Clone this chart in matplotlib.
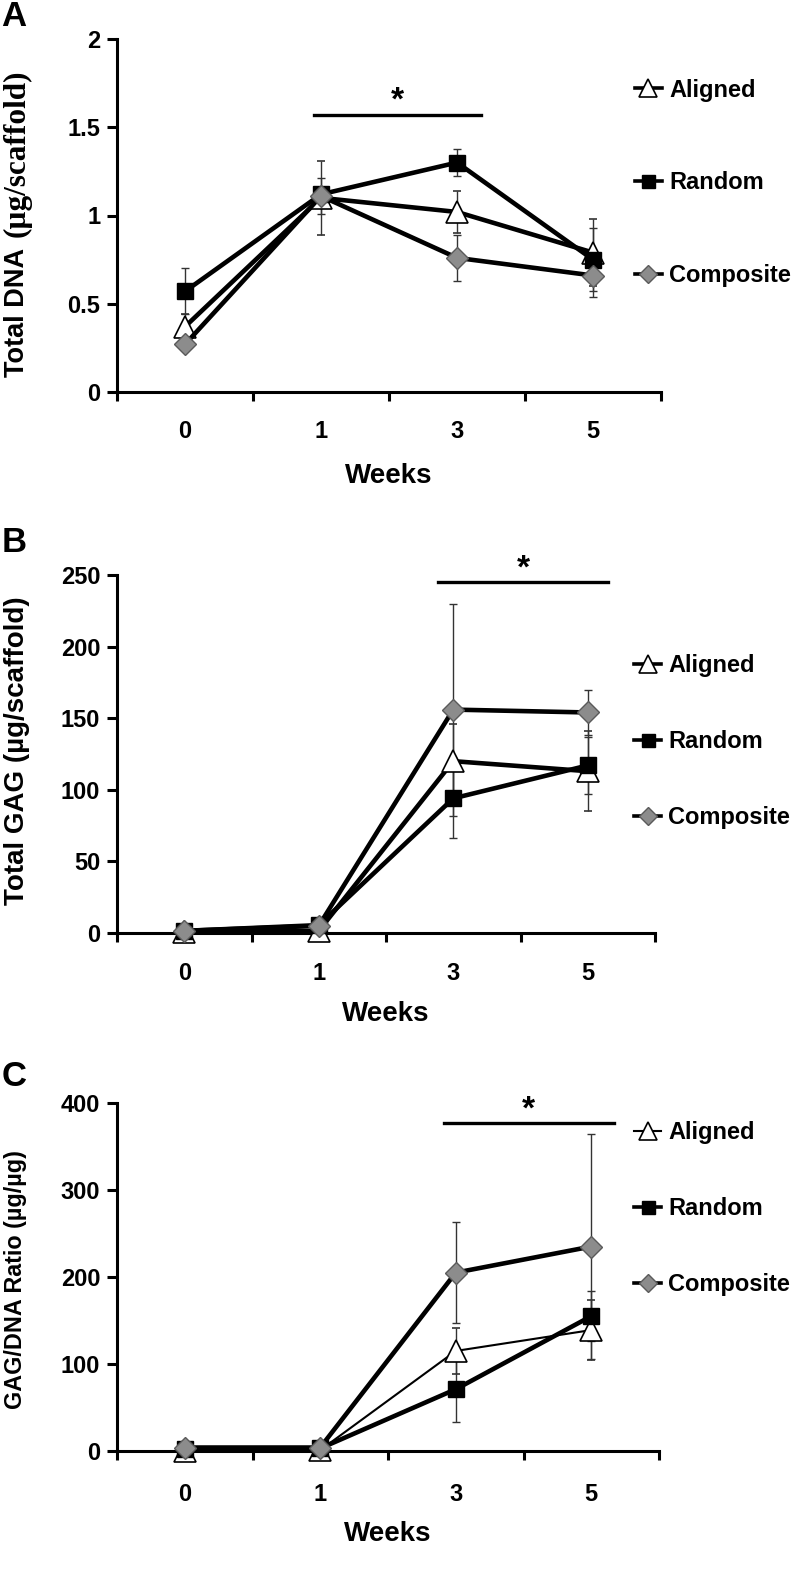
import matplotlib
matplotlib.use("Agg")
import matplotlib.pyplot as plt
import numpy as np

plt.rcParams["font.family"] = ["Liberation Sans", "DejaVu Sans"]
plt.rcParams["font.weight"] = "bold"

# =========================
# Data
# =========================
weeks = ["0", "1", "3", "5"]
series = ["Aligned", "Random", "Composite"]

# A - Total DNA (ug/scaffold)
dna_aligned = [0.37, 1.10, 1.02, 0.79]
dna_aligned_err = [0.07, 0.21, 0.12, 0.19]
dna_random = [0.57, 1.12, 1.30, 0.75]
dna_random_err = [0.13, 0.04, 0.075, 0.18]
dna_composite = [0.27, 1.11, 0.76, 0.66]
dna_composite_err = [0.03, 0.10, 0.13, 0.12]

# B - Total GAG (ug/scaffold)
gag_aligned = [0.5, 1.5, 120, 113]
gag_aligned_err = [0.5, 0.5, 26, 28]
gag_random = [1.5, 5.5, 94, 117]
gag_random_err = [0.5, 1.0, 28, 20]
gag_composite = [1.5, 5.0, 156, 154]
gag_composite_err = [0.5, 1.0, 74, 16]

# C - GAG/DNA ratio (ug/ug)
ratio_aligned = [0.5, 1.0, 115, 139]
ratio_aligned_err = [0.5, 0.5, 26, 34]
ratio_random = [2.0, 3.0, 71, 155]
ratio_random_err = [1.0, 1.0, 38, 29]
ratio_composite = [4.0, 4.0, 205, 235]
ratio_composite_err = [1.0, 1.0, 58, 129]

# significance bars: (x start, x end, y)
sig_a = (0.95, 2.18, 1.57)
sig_b = (1.89, 3.15, 245)
sig_c = (1.91, 3.17, 377)

yticks_a = [0, 0.5, 1, 1.5, 2]
yticklabels_a = ["0", "0.5", "1", "1.5", "2"]
yticks_b = [0, 50, 100, 150, 200, 250]
yticks_c = [0, 100, 200, 300, 400]

# =========================
# Styles
# =========================
STYLE = {
    "Aligned": dict(marker="^", ms=16, mfc="white", mec="black", mew=1.2),
    "Random": dict(marker="s", ms=12, mfc="black", mec="black", mew=1.0),
    "Composite": dict(marker="D", ms=11.5, mfc="#8c8c8c", mec="#5a5a5a", mew=1.0),
}
TICK_FS = 17
LEG_FS = 17


def draw_panel(ax, vals, errs, lws, ylim, yticks, yticklabels, sig, tick_pad,
               xlabel_y, leg_anchor, leg_spacing):
    x = np.arange(len(weeks))
    handles = []
    for name, v, e, lw in zip(series, vals, errs, lws):
        eb = ax.errorbar(x, v, yerr=e, color="black", lw=lw, ecolor="#333333",
                         elinewidth=1.0, capsize=3, capthick=1.0,
                         clip_on=False, zorder=3, **STYLE[name])
        handles.append(eb.lines[0])

    ax.set_xlim(-0.5, len(weeks) - 0.5)
    ax.set_ylim(*ylim)
    ax.set_yticks(yticks)
    ax.set_yticklabels(yticklabels if yticklabels else [str(t) for t in yticks])

    # tick marks between categories, labels at category centres
    ax.set_xticks(np.arange(len(weeks) + 1) - 0.5)
    ax.set_xticklabels([])
    ax.set_xticks(x, minor=True)
    ax.set_xticklabels(weeks, minor=True)
    ax.tick_params(axis="x", which="major", direction="out", length=6.5, width=2.2)
    ax.tick_params(axis="x", which="minor", length=0, pad=tick_pad, labelsize=TICK_FS)
    ax.tick_params(axis="y", direction="out", length=7, width=2.2, pad=5,
                   labelsize=TICK_FS)

    for s in ("top", "right"):
        ax.spines[s].set_visible(False)
    for s in ("left", "bottom"):
        ax.spines[s].set_linewidth(2.2)

    ax.set_xlabel("Weeks", fontsize=20, fontweight="bold")
    ax.xaxis.set_label_coords(0.5, xlabel_y)

    # significance bar + star
    x0, x1, y = sig
    ax.plot([x0, x1], [y, y], color="black", lw=2.4, clip_on=False)
    ax.annotate("*", xy=((x0 + x1) / 2, y), xytext=(0, -1.5), textcoords="offset points",
                ha="center", va="bottom", fontsize=24, fontweight="bold",
                annotation_clip=False)

    leg = ax.legend(handles, series, loc="center left", bbox_to_anchor=leg_anchor,
                    frameon=False, fontsize=LEG_FS, handlelength=1.15,
                    handletextpad=0.3, labelspacing=leg_spacing, borderpad=0,
                    borderaxespad=0, markerscale=0.78)
    for h, lw in zip(leg.legend_handles, lws):
        h.set_linewidth(min(lw, 2.6))
    return ax


W, H = 792, 1577
fig = plt.figure(figsize=(W / 100, H / 100), dpi=100)


def px_axes(left, right, top, bottom):
    return fig.add_axes([left / W, 1 - bottom / H, (right - left) / W, (bottom - top) / H])


axA = px_axes(117, 661, 39, 392)
draw_panel(axA, [dna_aligned, dna_random, dna_composite],
           [dna_aligned_err, dna_random_err, dna_composite_err],
           [3.3, 3.3, 3.3], (0, 2), yticks_a, yticklabels_a, sig_a, 20,
           -0.2, (0.952, 0.593), 2.95)

axB = px_axes(117, 655, 575, 933)
draw_panel(axB, [gag_aligned, gag_random, gag_composite],
           [gag_aligned_err, gag_random_err, gag_composite_err],
           [3.3, 3.3, 3.3], (0, 250), yticks_b, None, sig_b, 21,
           -0.19, (0.961, 0.534), 2.25)

axC = px_axes(117, 659, 1103, 1451)
draw_panel(axC, [ratio_aligned, ratio_random, ratio_composite],
           [ratio_aligned_err, ratio_random_err, ratio_composite_err],
           [1.5, 3.3, 3.3], (0, 400), yticks_c, None, sig_c, 23,
           -0.2, (0.954, 0.697), 2.25)

# y labels (A mixes a sans and a serif part)
tA = fig.text(17 / W, 1 - 377 / H, "Total DNA", rotation=90, ha="center", va="bottom",
              fontsize=19.5, fontweight="bold")
axA.annotate("(\u00b5g/scaffold)", xy=(0.5, 1.0), xycoords=tA, xytext=(0, 8),
             textcoords="offset points", rotation=90, ha="center", va="bottom",
             fontsize=22.5, fontweight="bold", family=["Liberation Serif", "DejaVu Serif"],
             annotation_clip=False)
fig.text(17 / W, 1 - 751 / H, "Total GAG (\u00b5g/scaffold)", rotation=90,
         ha="center", va="center", fontsize=20, fontweight="bold")
fig.text(16 / W, 1 - 1280 / H, "GAG/DNA Ratio (\u00b5g/\u00b5g)", rotation=90,
         ha="center", va="center", fontsize=16.8, fontweight="bold")

# panel letters
for letter, yc in (("A", 17), ("B", 543), ("C", 1077)):
    fig.text(14 / W, 1 - yc / H, letter, ha="center", va="center",
             fontsize=25, fontweight="bold")

fig.savefig("out.png", dpi=100)
